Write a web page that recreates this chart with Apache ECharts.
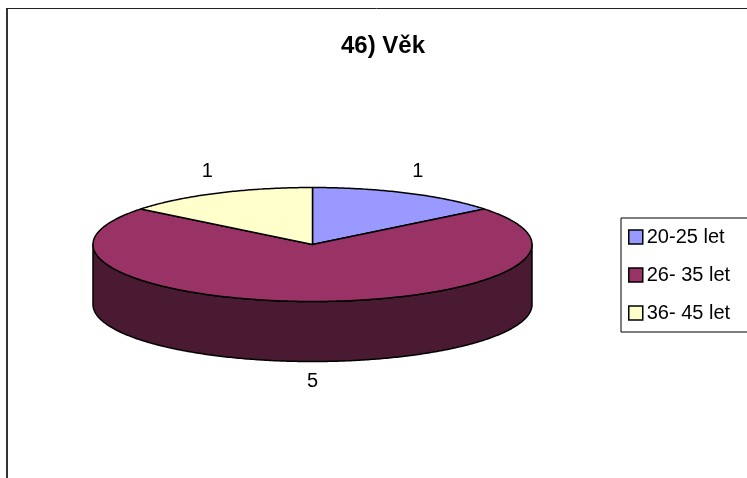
<!DOCTYPE html>
<html>
<head>
<meta charset="utf-8">
<script src="https://cdn.jsdelivr.net/npm/echarts@6/dist/echarts.min.js"></script>
<style>
  html, body { margin: 0; padding: 0; background: #fff; }
  #main { width: 747px; height: 478px; }
</style>
</head>
<body>
<div id="main"></div>
<script>
// ---- data ----
const titleText = '46) Věk';
const categories = ['20-25 let', '26- 35 let', '36- 45 let'];
const values = [1, 5, 1];

// ---- styles ----
const topColors = ['#9999FF', '#993366', '#FFFFCC'];
const sideColors = ['#4C4C80', '#4A1A33', '#808066'];
const FONT = '"Liberation Sans", Arial, sans-serif';
const FS = 20;
const TFS = 24;

// ---- geometry of the tilted pie ----
const CX = 312.5, CY = 244.5, RX = 219.5, RY = 57, DEPTH = 60;

function pt(a, dy) { // angle clockwise from 12 o'clock
  return [CX + RX * Math.sin(a), CY - RY * Math.cos(a) + (dy || 0)];
}
function arc(a1, a2, dy) {
  const n = Math.max(2, Math.ceil(Math.abs(a2 - a1) / 0.01));
  const pts = [];
  for (let k = 0; k <= n; k++) pts.push(pt(a1 + (a2 - a1) * k / n, dy));
  return pts;
}

const total = values.reduce((s, v) => s + v, 0);

function makeRender(i) {
  return function (params, api) {
    const v = api.value(0);
    let before = 0;
    for (let j = 0; j < i; j++) before += values[j];
    const start = before / total * Math.PI * 2;
    const end = start + v / total * Math.PI * 2;
    const children = [];
    // front wall (visible between 90° and 270°)
    const s = Math.max(start, Math.PI / 2), e = Math.min(end, Math.PI * 3 / 2);
    if (s < e) {
      const wall = arc(s, e, 0).concat(arc(e, s, DEPTH));
      children.push({
        type: 'polygon', z2: 5,
        shape: { points: wall },
        style: { fill: sideColors[i], stroke: '#000', lineWidth: 1.5, lineJoin: 'round' }
      });
    }
    // top sector
    const top = [[CX, CY]].concat(arc(start, end, 0));
    children.push({
      type: 'polygon', z2: 10,
      shape: { points: top },
      style: { fill: topColors[i], stroke: '#000', lineWidth: 1.5, lineJoin: 'round' }
    });
    // label
    const mid = (start + end) / 2;
    const c = Math.cos(mid);
    const lx = CX + (RX + 23) * Math.sin(mid);
    const ly = CY - (RY + 24) * c + (c < 0 ? (DEPTH - 4) * (-c) : 0);
    children.push({
      type: 'text', z2: 20,
      x: lx, y: ly,
      style: { text: String(v), fill: '#000', font: FS + 'px ' + FONT, align: 'center', verticalAlign: 'middle' }
    });
    return { type: 'group', children: children };
  };
}

const series = categories.map((name, i) => ({
  type: 'custom',
  name: name,
  coordinateSystem: 'none',
  itemStyle: { color: topColors[i] },
  data: [[values[i]]],
  renderItem: makeRender(i),
  silent: true
}));

const chart = echarts.init(document.getElementById('main'), null, { renderer: 'canvas' });
chart.setOption({
  animation: false,
  backgroundColor: '#fff',
  legend: {
    orient: 'vertical',
    left: 621, top: 218,
    icon: 'rect',
    itemWidth: 14, itemHeight: 14,
    itemGap: 16,
    padding: [8, 30, 8, 7],
    borderColor: '#000', borderWidth: 1,
    itemStyle: { borderColor: '#000', borderWidth: 1.5 },
    textStyle: { fontFamily: FONT, fontSize: FS, color: '#000', lineHeight: 22, padding: [0, 0, 0, -1] },
    selectedMode: false,
    data: categories
  },
  graphic: [
    { type: 'line', shape: { x1: 7, y1: 8, x2: 7, y2: 478 }, style: { stroke: '#333', lineWidth: 2 } },
    { type: 'line', shape: { x1: 6, y1: 8.5, x2: 747, y2: 8.5 }, style: { stroke: '#222', lineWidth: 1 } },
    { type: 'text', x: 383, y: 46, style: { text: titleText, font: 'bold ' + TFS + 'px ' + FONT, fill: '#000', align: 'center', verticalAlign: 'middle' } }
  ],
  series: series
});
</script>
</body>
</html>
